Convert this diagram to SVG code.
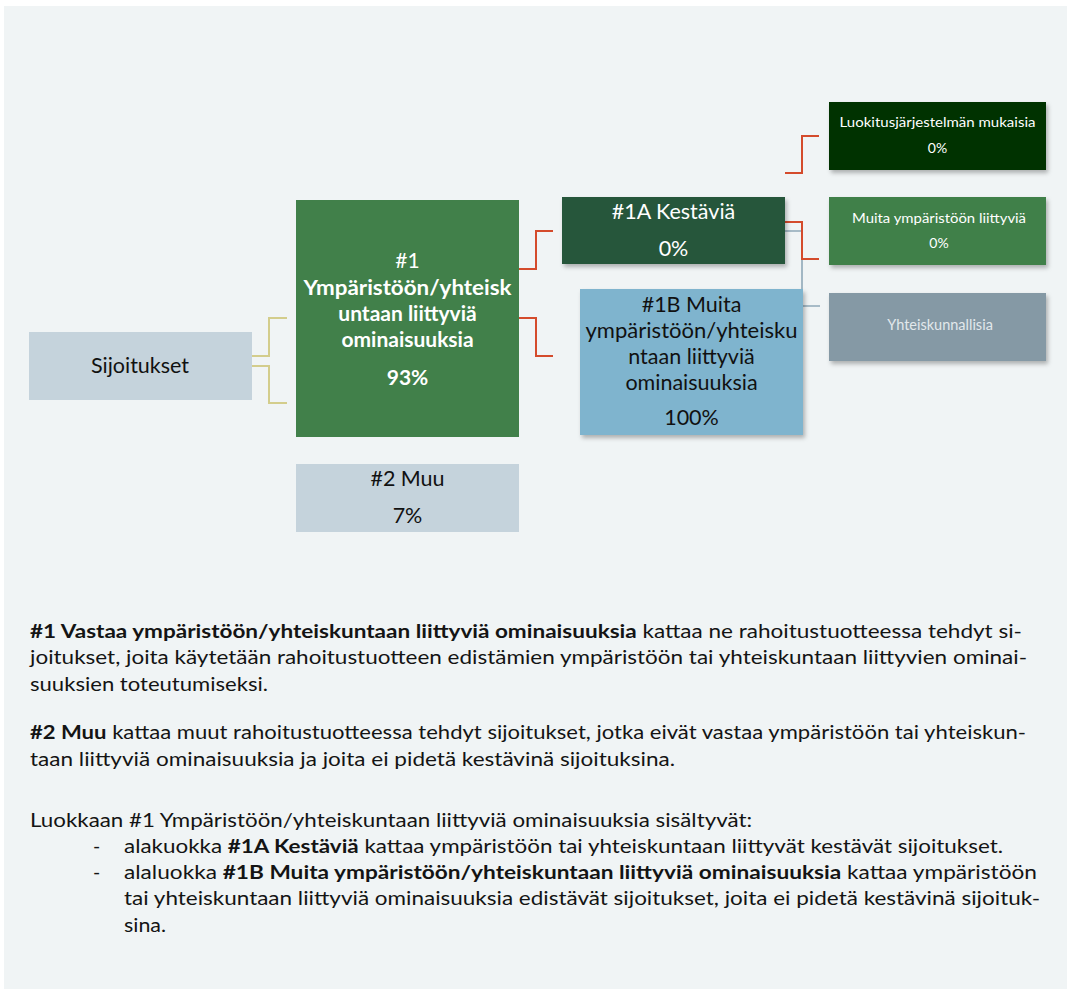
<svg xmlns="http://www.w3.org/2000/svg" width="1069" height="989" viewBox="0 0 1069 989">
<defs>
<filter id="sh" x="-10%" y="-10%" width="125%" height="130%">
<feDropShadow dx="2" dy="3" stdDeviation="2" flood-color="#000" flood-opacity="0.28"/>
</filter>
<style>
.t{font-family:Lato,"Liberation Sans",sans-serif;}
.w{fill:#ffffff;}
.k{fill:#111111;}
.b{font-weight:bold;}
.c{text-anchor:middle;}
.red{fill:none;stroke:#D44B2C;stroke-width:2;}
.yel{fill:none;stroke:#D3CD8C;stroke-width:2;}
.gry{fill:none;stroke:#8FA8B8;stroke-width:1.6;}
.p{font-size:19.5px;fill:#141414;}
</style>
</defs>
<rect x="0" y="0" width="1069" height="989" fill="#ffffff"/>
<rect x="4" y="6" width="1063" height="983" fill="#F0F4F5"/>

<g id="connectors">
<polyline class="yel" points="252,356 269,356 269,318 287,318"/>
<polyline class="yel" points="252,366 269,366 269,403 287,403"/>
<polyline class="red" points="519,269 536,269 536,231 553,231"/>
<polyline class="red" points="519,318 536,318 536,356 553,356"/>
<polyline class="red" points="785,173 802,173 802,136 819,136"/>
<polyline class="gry" points="785,231 802,231 802,306 820,306"/>
<polyline class="red" points="785,222 802,222 802,259 819,259"/>
</g>

<g id="sijoitukset">
<rect x="29" y="332" width="223" height="68" fill="#C5D3DC"/>
<text class="t k c" x="140" y="373" font-size="21.5">Sijoitukset</text>
</g>

<g id="n1">
<rect x="296" y="200" width="223" height="237" fill="#41804A"/>
<text class="t w c" x="407.5" y="268" font-size="21">#1</text>
<text class="t w c b" x="407.5" y="295" font-size="21" textLength="208" lengthAdjust="spacingAndGlyphs">Ympäristöön/yhteisk</text>
<text class="t w c b" x="407.5" y="321" font-size="21">untaan liittyviä</text>
<text class="t w c b" x="407.5" y="347" font-size="21">ominaisuuksia</text>
<text class="t w c b" x="407.5" y="385" font-size="21">93%</text>
</g>

<g id="n2">
<rect x="296" y="464" width="223" height="68" fill="#C5D3DC"/>
<text class="t k c" x="407.5" y="486" font-size="21.5">#2 Muu</text>
<text class="t k c" x="407.5" y="523" font-size="21.5">7%</text>
</g>

<g id="n1a">
<rect x="562" y="197" width="223" height="67" fill="#25573A" filter="url(#sh)"/>
<text class="t w c" x="673.5" y="219" font-size="21.5">#1A Kestäviä</text>
<text class="t w c" x="673.5" y="256" font-size="21.5">0%</text>
</g>

<g id="n1b">
<rect x="580" y="289" width="223" height="146" fill="#7FB4CE" filter="url(#sh)"/>
<text class="t k c" x="691.5" y="312" font-size="21.5">#1B Muita</text>
<text class="t k c" x="691.5" y="338" font-size="21.5" textLength="212" lengthAdjust="spacingAndGlyphs">ympäristöön/yhteisku</text>
<text class="t k c" x="691.5" y="364" font-size="21.5">ntaan liittyviä</text>
<text class="t k c" x="691.5" y="390" font-size="21.5">ominaisuuksia</text>
<text class="t k c" x="691.5" y="425" font-size="21.5">100%</text>
</g>

<g id="luokitus">
<rect x="829" y="102" width="217" height="68" fill="#023302" filter="url(#sh)"/>
<text class="t w c" x="937.5" y="127" font-size="14" textLength="196" lengthAdjust="spacingAndGlyphs">Luokitusjärjestelmän mukaisia</text>
<text class="t w c" x="937.5" y="153" font-size="14">0%</text>
</g>

<g id="muita">
<rect x="829" y="197" width="217" height="68" fill="#41804A" filter="url(#sh)"/>
<text class="t w c" x="939" y="223" font-size="14" textLength="174" lengthAdjust="spacingAndGlyphs">Muita ympäristöön liittyviä</text>
<text class="t w c" x="939" y="248" font-size="14">0%</text>
</g>

<g id="yhteiskunnallisia">
<rect x="829" y="293" width="217" height="68" fill="#8599A5" filter="url(#sh)"/>
<text class="t c" x="940" y="330" font-size="14.5" fill="#E2E8EC">Yhteiskunnallisia</text>
</g>

<g id="text">
<text class="t p" x="30" y="638" textLength="992" lengthAdjust="spacingAndGlyphs"><tspan class="b">#1 Vastaa ympäristöön/yhteiskuntaan liittyviä ominaisuuksia</tspan> kattaa ne rahoitustuotteessa tehdyt si-</text>
<text class="t p" x="30" y="664" textLength="997" lengthAdjust="spacingAndGlyphs">joitukset, joita käytetään rahoitustuotteen edistämien ympäristöön tai yhteiskuntaan liittyvien ominai-</text>
<text class="t p" x="30" y="691" textLength="238" lengthAdjust="spacingAndGlyphs">suuksien toteutumiseksi.</text>
<text class="t p" x="30" y="739" textLength="996" lengthAdjust="spacingAndGlyphs"><tspan class="b">#2 Muu</tspan> kattaa muut rahoitustuotteessa tehdyt sijoitukset, jotka eivät vastaa ympäristöön tai yhteiskun-</text>
<text class="t p" x="30" y="766" textLength="645" lengthAdjust="spacingAndGlyphs">taan liittyviä ominaisuuksia ja joita ei pidetä kestävinä sijoituksina.</text>
<text class="t p" x="30" y="827" textLength="722" lengthAdjust="spacingAndGlyphs">Luokkaan #1 Ympäristöön/yhteiskuntaan liittyviä ominaisuuksia sisältyvät:</text>
<text class="t p" x="93" y="853">-</text>
<text class="t p" x="124" y="853" textLength="879" lengthAdjust="spacingAndGlyphs">alakuokka <tspan class="b">#1A Kestäviä</tspan> kattaa ympäristöön tai yhteiskuntaan liittyvät kestävät sijoitukset.</text>
<text class="t p" x="93" y="879">-</text>
<text class="t p" x="124" y="879" textLength="913" lengthAdjust="spacingAndGlyphs">alaluokka <tspan class="b">#1B Muita ympäristöön/yhteiskuntaan liittyviä ominaisuuksia</tspan> kattaa ympäristöön</text>
<text class="t p" x="124" y="905" textLength="916" lengthAdjust="spacingAndGlyphs">tai yhteiskuntaan liittyviä ominaisuuksia edistävät sijoitukset, joita ei pidetä kestävinä sijoituk-</text>
<text class="t p" x="124" y="932" textLength="42" lengthAdjust="spacingAndGlyphs">sina.</text>
</g>
</svg>
